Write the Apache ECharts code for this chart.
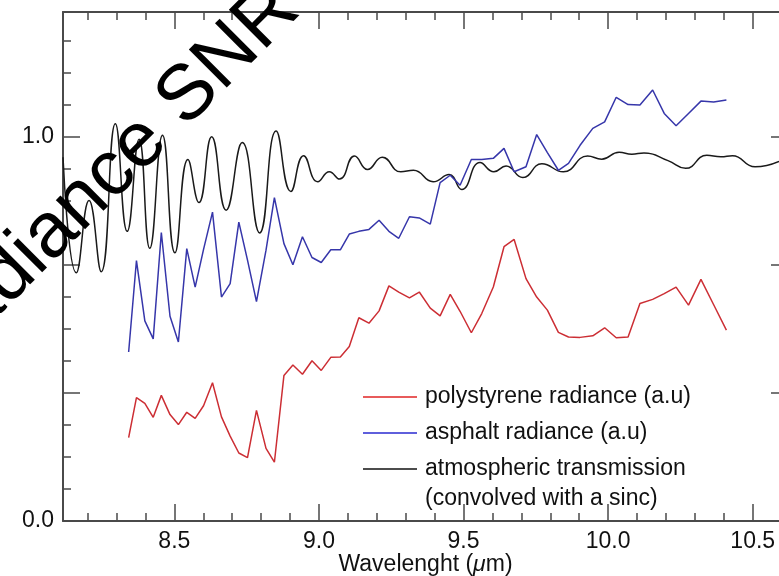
<!DOCTYPE html>
<html>
<head>
<meta charset="utf-8">
<script src="https://cdn.jsdelivr.net/npm/echarts@6/dist/echarts.min.js"></script>
<style>
  html, body { margin: 0; padding: 0; background: #fff; }
  #chart { width: 779px; height: 576px; }
</style>
</head>
<body>
<div id="chart"></div>
<script>
// wavelength grid of the two radiance curves (um)
const wave = [8.342, 8.369, 8.398, 8.427, 8.455, 8.485, 8.514, 8.543, 8.572, 8.601,
  8.632, 8.663, 8.693, 8.723, 8.753, 8.784, 8.817, 8.846, 8.879, 8.910,
  8.943, 8.976, 9.008, 9.041, 9.074, 9.105, 9.138, 9.173, 9.208, 9.242,
  9.276, 9.313, 9.347, 9.385, 9.419, 9.454, 9.488, 9.527, 9.563, 9.603,
  9.640, 9.675, 9.716, 9.753, 9.790, 9.828, 9.863, 9.903, 9.947, 9.988,
  10.028, 10.069, 10.110, 10.154, 10.194, 10.235, 10.278, 10.321, 10.365, 10.409];
const polystyrene = [0.217, 0.321, 0.306, 0.270, 0.327, 0.277, 0.251, 0.283, 0.267, 0.300,
  0.360, 0.271, 0.221, 0.177, 0.165, 0.288, 0.189, 0.153, 0.379, 0.406,
  0.382, 0.417, 0.392, 0.426, 0.427, 0.454, 0.529, 0.515, 0.547, 0.612,
  0.596, 0.581, 0.596, 0.554, 0.534, 0.590, 0.546, 0.490, 0.540, 0.609,
  0.714, 0.733, 0.631, 0.583, 0.549, 0.491, 0.479, 0.478, 0.482, 0.503,
  0.477, 0.479, 0.566, 0.577, 0.592, 0.609, 0.562, 0.629, 0.563, 0.497];
const asphalt = [0.440, 0.678, 0.521, 0.474, 0.751, 0.533, 0.466, 0.709, 0.609, 0.707,
  0.804, 0.583, 0.618, 0.778, 0.679, 0.571, 0.705, 0.842, 0.722, 0.667,
  0.740, 0.686, 0.673, 0.706, 0.706, 0.747, 0.754, 0.759, 0.783, 0.754,
  0.736, 0.792, 0.789, 0.773, 0.881, 0.900, 0.874, 0.941, 0.941, 0.944,
  0.970, 0.909, 0.922, 1.006, 0.959, 0.913, 0.931, 0.978, 1.022, 1.039,
  1.103, 1.084, 1.083, 1.122, 1.061, 1.029, 1.061, 1.093, 1.091, 1.096];
// atmospheric transmission, read at its peaks and troughs
const atmX = [8.115, 8.161, 8.205, 8.247, 8.296, 8.337, 8.378, 8.415, 8.459, 8.502,
  8.547, 8.585, 8.629, 8.679, 8.735, 8.795, 8.852, 8.903, 8.947, 8.996,
  9.036, 9.071, 9.123, 9.168, 9.219, 9.283, 9.327, 9.395, 9.450, 9.494,
  9.557, 9.605, 9.647, 9.705, 9.771, 9.845, 9.929, 9.978, 10.038, 10.082,
  10.124, 10.207, 10.268, 10.341, 10.390, 10.430, 10.508, 10.591];
const atmY = [0.947, 0.646, 0.834, 0.649, 1.034, 0.754, 0.994, 0.710, 1.004, 0.698,
  0.941, 0.829, 1.000, 0.809, 0.985, 0.750, 1.015, 0.858, 0.951, 0.883,
  0.909, 0.890, 0.950, 0.915, 0.947, 0.909, 0.913, 0.883, 0.902, 0.863,
  0.933, 0.909, 0.924, 0.894, 0.930, 0.909, 0.950, 0.942, 0.960, 0.955,
  0.958, 0.938, 0.918, 0.952, 0.948, 0.951, 0.922, 0.936];

const xLabels = [8.5, 9.0, 9.5, 10.0, 10.5];
const xMinor = [8.2, 8.3, 8.4, 8.6, 8.7, 8.8, 8.9, 9.1, 9.2, 9.3, 9.4,
  9.6, 9.7, 9.8, 9.9, 10.1, 10.2, 10.3, 10.4, 10.6];
const yLabels = [0, 1];
const yMajor = [0, 1 / 3, 2 / 3, 1];
const yMinor = [1, 2, 3, 5, 6, 7, 9, 10, 11, 13, 14, 15].map(k => k / 12);

const X_MIN = 8.115, X_MAX = 10.622, Y_MIN = 0, Y_MAX = 1.325;
const axisColor = '#4a4a4a';
const font = 'Liberation Sans';

function makeAxis(position, ticks, length, labels, showLine, extra) {
  return Object.assign({
    type: 'value',
    position: position,
    axisLine: { show: showLine, onZero: false, lineStyle: { color: axisColor, width: 2 } },
    axisTick: { show: true, inside: true, length: length, customValues: ticks,
      lineStyle: { color: axisColor, width: 1.5 } },
    axisLabel: labels ? {
      customValues: labels, formatter: v => v.toFixed(1), margin: 9,
      color: '#111', fontSize: 23, fontFamily: font
    } : { show: false },
    splitLine: { show: false }
  }, extra);
}

const xr = { min: X_MIN, max: X_MAX };
const yr = { min: Y_MIN, max: Y_MAX };

const chart = echarts.init(document.getElementById('chart'));

chart.setOption({
  animation: false,
  backgroundColor: '#fff',
  // the frame runs a little past the right edge of the picture
  grid: { left: 63, right: -9, top: 12, bottom: 55, containLabel: false, outerBoundsMode: 'none' },
  xAxis: [
    makeAxis('bottom', xLabels, 17, xLabels, true, Object.assign({
      name: 'Wavelenght ({i|\u03bc}m)',
      nameLocation: 'middle',
      nameGap: 32,
      nameMoveOverlap: false,
      nameTextStyle: {
        color: '#111', fontSize: 23, fontFamily: font,
        rich: { i: { fontStyle: 'italic', color: '#111', fontSize: 23, fontFamily: font } }
      }
    }, xr)),
    makeAxis('bottom', xMinor, 8, null, false, xr),
    makeAxis('top', xLabels, 17, null, true, xr),
    makeAxis('top', xMinor, 8, null, false, xr)
  ],
  yAxis: [
    makeAxis('left', yMajor, 17, yLabels, true, yr),
    makeAxis('left', yMinor, 8, null, false, yr),
    makeAxis('right', yMajor, 17, null, true, yr),
    makeAxis('right', yMinor, 8, null, false, yr)
  ],
  series: [
    {
      name: 'atmospheric transmission', type: 'line', smooth: 0.5, showSymbol: false,
      data: atmX.map((x, i) => [x, atmY[i]]),
      lineStyle: { color: '#1a1a1a', width: 1.5 }
    },
    {
      name: 'asphalt radiance (a.u)', type: 'line', showSymbol: false,
      data: wave.map((x, i) => [x, asphalt[i]]),
      lineStyle: { color: '#3636aa', width: 1.5 }
    },
    {
      name: 'polystyrene radiance (a.u)', type: 'line', showSymbol: false,
      data: wave.map((x, i) => [x, polystyrene[i]]),
      lineStyle: { color: '#cc2e34', width: 1.5 }
    }
  ],
  graphic: [
    // big rotated caption across the top left
    {
      type: 'text', x: -78, y: 362, rotation: Math.PI / 4, z: 100,
      style: { text: 'Radiance SNR in', font: '78px "Liberation Sans"', fill: '#000',
        textAlign: 'left', textVerticalAlign: 'middle' }
    },
    // legend
    { type: 'line', shape: { x1: 363, y1: 397, x2: 417, y2: 397 }, style: { stroke: '#e02424', lineWidth: 1.5 } },
    { type: 'line', shape: { x1: 363, y1: 433, x2: 417, y2: 433 }, style: { stroke: '#2a2ad0', lineWidth: 1.5 } },
    { type: 'line', shape: { x1: 363, y1: 469, x2: 417, y2: 469 }, style: { stroke: '#111', lineWidth: 1.5 } },
    { type: 'text', x: 425, y: 397, style: { text: 'polystyrene radiance (a.u)', font: '23px "Liberation Sans"', fill: '#111', textVerticalAlign: 'middle' } },
    { type: 'text', x: 425, y: 433, style: { text: 'asphalt radiance (a.u)', font: '23px "Liberation Sans"', fill: '#111', textVerticalAlign: 'middle' } },
    { type: 'text', x: 425, y: 454, style: { text: 'atmospheric transmission\n(convolved with a sinc)', font: '23px "Liberation Sans"', lineHeight: 30, fill: '#111', textVerticalAlign: 'top' } }
  ]
});
</script>
</body>
</html>
